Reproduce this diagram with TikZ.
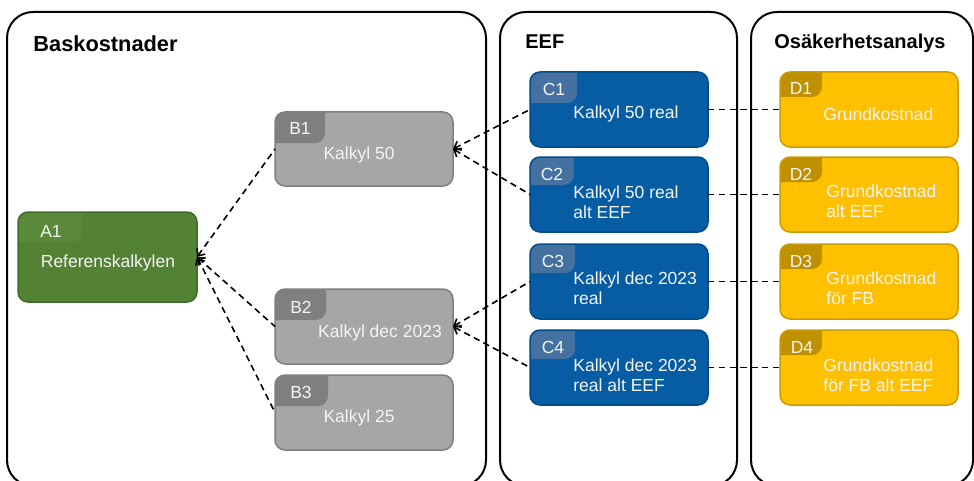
\documentclass[tikz,border=0pt]{standalone}
\usepackage{fontspec}
\setmainfont{Liberation Sans}
\usetikzlibrary{arrows.meta}
\definecolor{gfill}{HTML}{548235}
\definecolor{gtab}{HTML}{5A8939}
\definecolor{gborder}{HTML}{3F6D29}
\definecolor{kfill}{HTML}{A6A6A6}
\definecolor{ktab}{HTML}{7F7F7F}
\definecolor{kborder}{HTML}{7F7F7F}
\definecolor{bfill}{HTML}{065DA4}
\definecolor{btab}{HTML}{4571A0}
\definecolor{bborder}{HTML}{004C8A}
\definecolor{yfill}{HTML}{FFC000}
\definecolor{ytab}{HTML}{BF9000}
\definecolor{yborder}{HTML}{C99C00}
\definecolor{txt}{HTML}{F4F4F4}
\tikzset{
  panel/.style={draw=black, line width=1pt, rounded corners=13pt},
  title/.style={anchor=base west, inner sep=0pt, font=\fontsize{10}{12}\selectfont\bfseries},
  btext/.style={text=txt, inner sep=0pt, font=\fontsize{8.75}{10}\selectfont},
  ltext/.style={btext, align=left, anchor=west},
  conn/.style={draw=black, line width=0.8pt, dash pattern=on 3.2pt off 2.2pt},
  tipped/.style={conn, {Straight Barb[length=3pt,width=5pt]}-},
}
% name, x0, y0, x1, y1, colour prefix, tab width, tab height
\newcommand{\kbox}[8]{%
  \node[fill=#6fill, rounded corners=5pt, inner sep=0pt, outer sep=0pt,
        minimum width={(#4-#2)*0.5pt}, minimum height={(#5-#3)*0.5pt}]
        (#1) at ({(#2+#4)/2},{(#3+#5)/2}) {};
  \begin{scope}
    \clip[rounded corners=5pt] (#2,#3) rectangle (#4,#5);
    \fill[#6tab, rounded corners=5pt] (#2-30,#3-30) rectangle (#2+#7,#3+#8);
  \end{scope}
  \draw[#6border, line width=0.75pt, rounded corners=5pt] (#1.north west) rectangle (#1.south east);
}
\begin{document}
\begin{tikzpicture}[x=0.5pt, y=-0.5pt]
\useasboundingbox (0,0) rectangle (974,481);
% panels
\draw[panel] (7,12) rectangle (486,486);
\draw[panel] (500,12) rectangle (737,486);
\draw[panel] (751,12) rectangle (973,486);
\node[title, font=\fontsize{10.9}{12}\selectfont\bfseries] (t1) at (33,52) {Baskostnader};
\node[title] (t2) at (525,49) {EEF};
\node[title] (t3) at (774,49) {Osäkerhetsanalys};

% boxes
\kbox{A1}{18}{212}{197}{302}{g}{64}{30}
\kbox{B1}{275}{112}{453}{186}{k}{50}{31}
\kbox{B2}{275}{289}{453}{364}{k}{51}{31}
\kbox{B3}{275}{375}{453}{450}{k}{53}{31}
\kbox{C1}{530}{72}{708}{147}{b}{47}{31}
\kbox{C2}{530}{157}{708}{232}{b}{44}{28}
\kbox{C3}{530}{244}{708}{319}{b}{45}{29}
\kbox{C4}{530}{330}{708}{405}{b}{45}{29}
\kbox{D1}{780}{72}{958}{147}{y}{42}{25}
\kbox{D2}{780}{157}{958}{232}{y}{42}{25}
\kbox{D3}{780}{244}{958}{319}{y}{42}{25}
\kbox{D4}{780}{330}{958}{405}{y}{42}{25}

% connectors
\draw[tipped] (A1.east) -- (B1.west);
\draw[tipped] (A1.east) -- (B2.west);
\draw[tipped] (A1.east) -- (B3.west);
\draw[tipped] (B1.east) -- (C1.west);
\draw[tipped] (B1.east) -- (C2.west);
\draw[tipped] (B2.east) -- (C3.west);
\draw[tipped] (B2.east) -- (C4.west);
\draw[conn] (C1.east) -- (D1.west);
\draw[conn] (C2.east) -- (D2.west);
\draw[conn] (C3.east) -- (D3.west);
\draw[conn] (C4.east) -- (D4.west);

% labels
\node[btext] (A1l) at (51,231) {A1};
\node[btext] (A1t) at (108,263) {Referenskalkylen};
\node[btext] (B1l) at (300,128) {B1};
\node[btext] (B1t) at (359,155) {Kalkyl 50};
\node[btext] (B2l) at (301,307) {B2};
\node[btext] (B2t) at (380,333) {Kalkyl dec 2023};
\node[btext] (B3l) at (301,392) {B3};
\node[btext] (B3t) at (359,418) {Kalkyl 25};

\node[btext] (C1l) at (554,89) {C1};
\node[ltext] (C1t) at (573,114) {Kalkyl 50 real};
\node[btext] (C2l) at (552,174) {C2};
\node[ltext] (C2t) at (573,202) {Kalkyl 50 real\\alt EEF};
\node[btext] (C3l) at (553,261) {C3};
\node[ltext] (C3t) at (573,288) {Kalkyl dec 2023\\real};
\node[btext] (C4l) at (553,347) {C4};
\node[ltext] (C4t) at (573,375) {Kalkyl dec 2023\\real alt EEF};

\node[btext] (D1l) at (801,88) {D1};
\node[ltext] (D1t) at (823,114) {Grundkostnad};
\node[btext] (D2l) at (801,174) {D2};
\node[ltext] (D2t) at (826,201) {Grundkostnad\\alt EEF};
\node[btext] (D3l) at (801,261) {D3};
\node[ltext] (D3t) at (826,288) {Grundkostnad\\för FB};
\node[btext] (D4l) at (802,347) {D4};
\node[ltext] (D4t) at (823,375) {Grundkostnad\\för FB alt EEF};
\end{tikzpicture}
\end{document}
